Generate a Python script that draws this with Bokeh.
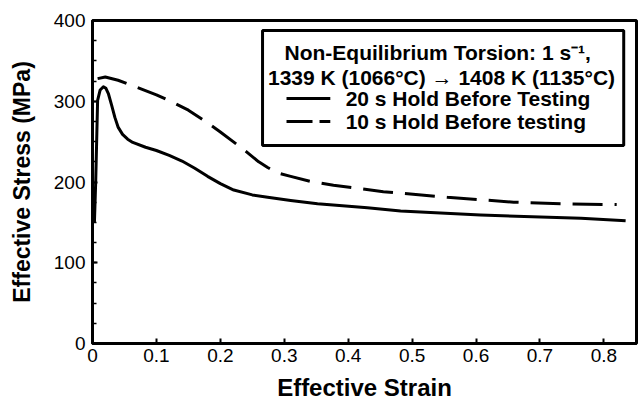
from bokeh.plotting import figure
from bokeh.models import Range1d, Label, FixedTicker, SingleIntervalTicker
from bokeh.embed import file_html
from bokeh.resources import INLINE

# ---- data ----
strain_20s = [0.003, 0.005, 0.008, 0.012, 0.017, 0.021, 0.025, 0.030, 0.035, 0.040, 0.047,
              0.055, 0.063, 0.083, 0.100, 0.120, 0.140, 0.160, 0.180, 0.200, 0.221, 0.250,
              0.274, 0.310, 0.352, 0.430, 0.482, 0.607, 0.764, 0.834]
stress_20s = [150, 200, 301, 314, 318, 316, 309, 295, 280, 268, 259,
              253, 249, 243, 239, 233, 226, 217, 207, 198, 190, 184,
              181, 177, 173, 168, 164, 159, 155, 152]

strain_10s = [0.008, 0.020, 0.040, 0.064, 0.100, 0.130, 0.150, 0.175, 0.200, 0.220, 0.240,
              0.260, 0.274, 0.290, 0.310, 0.340, 0.377, 0.455, 0.555, 0.659, 0.740, 0.820]
stress_10s = [328, 330, 326, 319, 308, 297, 289, 276, 262, 250, 238,
              225, 218, 211, 207, 201, 196, 188, 181, 175, 173, 172]

x_ticks = [0, 0.1, 0.2, 0.3, 0.4, 0.5, 0.6, 0.7, 0.8]
y_ticks = [0, 100, 200, 300, 400]

legend_title_1 = "Non-Equilibrium Torsion: 1 s\u207b\u00b9,"
legend_title_2 = "1339 K (1066\u00b0C) \u2192 1408 K (1135\u00b0C)"
legend_20s = "20 s Hold Before Testing"
legend_10s = "10 s Hold Before testing"

FONT = "Liberation Sans"

p = figure(width=642, height=403, output_backend="svg", toolbar_location=None,
           x_range=Range1d(0, 0.851), y_range=Range1d(0, 400),
           min_border_left=92, min_border_right=6, min_border_top=20, min_border_bottom=60)

p.grid.visible = False
p.background_fill_color = "white"
p.border_fill_color = "white"
p.outline_line_color = "black"
p.outline_line_alpha = 1.0
p.outline_line_width = 3

# axes
for ax in (p.xaxis[0], p.yaxis[0]):
    ax.axis_line_width = 3
    ax.axis_line_color = "black"
    ax.axis_line_alpha = 1.0
    ax.major_tick_in = 5
    ax.major_tick_out = 0
    ax.major_tick_line_width = 2
    ax.major_tick_line_color = "black"
    ax.minor_tick_in = 4
    ax.minor_tick_out = 0
    ax.minor_tick_line_width = 1.5
    ax.minor_tick_line_color = "black"
    ax.major_label_text_font = FONT
    ax.major_label_text_font_size = "19px"
    ax.major_label_text_color = "black"
    ax.axis_label_text_font = FONT
    ax.axis_label_text_font_style = "bold"
    ax.axis_label_text_font_size = "24px"
    ax.axis_label_text_color = "black"

p.xaxis.ticker = FixedTicker(ticks=x_ticks)
p.xaxis.minor_tick_line_color = None
p.xaxis.major_label_overrides = {0: "0"}
p.xaxis.major_label_standoff = 5
p.xaxis.axis_label = "Effective Strain"
p.xaxis.axis_label_standoff = 9

p.yaxis.ticker = SingleIntervalTicker(interval=100, num_minor_ticks=4)
p.yaxis.major_label_standoff = 7
p.yaxis.axis_label = "Effective Stress (MPa)"
p.yaxis.axis_label_text_font_size = "23px"
p.yaxis.axis_label_standoff = 16

# curves
p.line(strain_20s, stress_20s, line_color="black", line_width=3, line_join="round")
p.line(strain_10s, stress_10s, line_color="black", line_width=3, line_dash="30 12")

# legend box (drawn as a glyph so that the sample lines sit on top of it)
p.quad(left=[0.266], right=[0.831], top=[387.6], bottom=[245.2],
       fill_color="white", fill_alpha=1.0, line_color="black", line_width=3)

lab_kw = dict(text_font=FONT, text_font_style="bold", text_font_size="21px",
              text_color="black", text_baseline="middle")
p.add_layout(Label(x=0.540, y=360.4, text=legend_title_1, text_align="center", **lab_kw))
p.add_layout(Label(x=0.546, y=329.4, text=legend_title_2, text_align="center", **lab_kw))
p.add_layout(Label(x=0.396, y=303.4, text=legend_20s, text_align="left", **lab_kw))
p.add_layout(Label(x=0.396, y=274.9, text=legend_10s, text_align="left", **lab_kw))

p.line([0.3035, 0.372], [303.4, 303.4], line_color="black", line_width=3)
p.line([0.3035, 0.372], [274.9, 274.9], line_color="black", line_width=3, line_dash="26 7")

open("out.html", "w").write(file_html(p, INLINE))
